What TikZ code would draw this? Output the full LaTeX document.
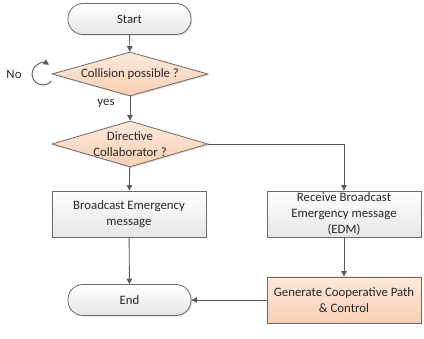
\documentclass[tikz,border=0pt]{standalone}
\usepackage{fontspec}
\setmainfont{Carlito}
\usetikzlibrary{shapes.geometric,shadows,arrows.meta}
\definecolor{edge}{HTML}{6B6B6B}
\definecolor{wire}{HTML}{595959}
\definecolor{ink}{HTML}{262626}
\definecolor{peachtop}{HTML}{FDE9DC}
\definecolor{peachbot}{HTML}{F8CFB3}
\definecolor{greytop}{HTML}{FFFFFF}
\definecolor{greybot}{HTML}{E6E6E6}
\tikzset{
  txt/.style={text=ink, font=\fontsize{12.8}{16}\selectfont},
  base/.style={txt, draw=edge, line width=0.8pt, align=center, inner sep=0pt,
    drop shadow={shadow xshift=1.2pt, shadow yshift=-1.2pt, opacity=0.25}},
  terminal/.style={base, rectangle, rounded corners=15pt, top color=greytop, bottom color=greybot},
  decision/.style={base, diamond, top color=peachtop, bottom color=peachbot},
  procbox/.style={base, rectangle, minimum width=154pt, minimum height=46pt,
    top color=greytop, bottom color=greybot},
  actbox/.style={procbox, top color=peachtop, bottom color=peachbot},
  flow/.style={draw=wire, line width=0.9pt, -{Triangle[length=5.5pt,width=5.5pt]}},
  lbl/.style={txt, inner sep=0pt}
}
\begin{document}
\begin{tikzpicture}[x=1pt,y=-1pt]
\useasboundingbox (0,0) rectangle (424,339);
% terminals
\node[terminal, minimum width=123pt, minimum height=31pt] (start) at (129.5,19) {Start};
\node[terminal, minimum width=123pt, minimum height=31pt] (stop) at (129.5,300) {End};
% decisions
\node[decision, minimum width=156pt, minimum height=44pt] (coll) at (130,74) {};
\node[lbl] (colltxt) at (coll.center) {Collision possible ?};
\node[decision, minimum width=156pt, minimum height=46pt] (dir) at (130,144) {};
\node[lbl, align=center] (dirtxt) at (dir.center) {Directive\\Collaborator ?};
% process boxes
\node[procbox] (bcast) at (129,214) {Broadcast Emergency\\message};
\node[procbox] (recv) at (344,214) {Receive Broadcast\\Emergency message\\(EDM)};
\node[actbox] (gen) at (344,300) {Generate Cooperative Path\\\& Control};
% side labels and the "No" loop
\node[lbl] (no) at (14,74) {No};
\node[lbl] (yes) at (106,103) {yes};
\coordinate (loopc) at (43,74);
\draw[flow] (loopc) ++(-40:11pt) arc[start angle=-40, end angle=-303, radius=11pt];
% connectors
\draw[flow] (start) -- (coll);
\draw[flow] (coll) -- (dir);
\draw[flow] (dir) -- (bcast);
\draw[flow] (dir.east) -| (recv.north);
\draw[flow] (bcast) -- (stop);
\draw[flow] (recv) -- (gen);
\draw[flow] (gen) -- (stop);
\end{tikzpicture}
\end{document}
